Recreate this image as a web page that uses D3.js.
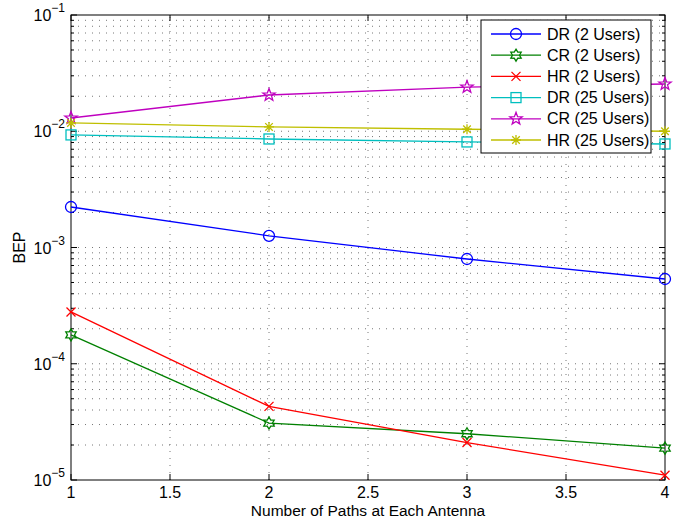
<!DOCTYPE html>
<html><head><meta charset="utf-8">
<script src="https://cdn.jsdelivr.net/npm/d3@7"></script>
<style>body{margin:0;background:#fff}svg{display:block}text{font-family:"Liberation Sans",Arial,sans-serif;fill:#000}</style>
</head><body><div id="chart"></div>
<script>
const xValues = [1, 2, 3, 4];
const seriesNames = ["DR (2 Users)", "CR (2 Users)", "HR (2 Users)", "DR (25 Users)", "CR (25 Users)", "HR (25 Users)"];
const drUsers2 = [2.23e-3, 1.26e-3, 7.96e-4, 5.36e-4];
const crUsers2 = [1.77e-4, 3.09e-5, 2.5e-5, 1.88e-5];
const hrUsers2 = [2.79e-4, 4.3e-5, 2.1e-5, 1.1e-5];
const drUsers25 = [9.3e-3, 8.58e-3, 8.09e-3, 7.77e-3];
const crUsers25 = [1.30e-2, 2.05e-2, 2.40e-2, 2.55e-2];
const hrUsers25 = [1.18e-2, 1.09e-2, 1.04e-2, 1.0e-2];
const xTicks = [1, 1.5, 2, 2.5, 3, 3.5, 4];
const xTickLabels = ["1", "1.5", "2", "2.5", "3", "3.5", "4"];
const yExponents = [-1, -2, -3, -4, -5];
const xLabel = "Number of Paths at Each Antenna";
const yLabel = "BEP";

const colors = ["#0000ff", "#008000", "#ff0000", "#00bfbf", "#bf00bf", "#bfbf00"];
const markers = ["circle", "hexagram", "x", "square", "pentagram", "asterisk"];
const allSeries = [drUsers2, crUsers2, hrUsers2, drUsers25, crUsers25, hrUsers25];

const W = 683, H = 527;
const m = {left: 71, right: 18, top: 15, bottom: 47};
const svg = d3.select("#chart").append("svg").attr("width", W).attr("height", H);
const x = d3.scaleLinear().domain([1, 4]).range([m.left, W - m.right]);
const y = d3.scaleLog().domain([1e-5, 1e-1]).range([H - m.bottom, m.top]);
const x0 = x.range()[0], x1 = x.range()[1], y0 = y.range()[0], y1 = y.range()[1];

// grid
const gridG = svg.append("g").attr("stroke", "#777").attr("stroke-width", 1).attr("stroke-dasharray", "1,6");
xTicks.slice(1, -1).forEach(t => {
  gridG.append("line").attr("x1", x(t)).attr("x2", x(t)).attr("y1", y0).attr("y2", y1);
});
const minorVals = [];
for (let e = -5; e < -1; e++) for (let k = 1; k <= 9; k++) {
  const v = k * Math.pow(10, e);
  if (k !== 1 || e !== -5) minorVals.push(v);
}
minorVals.forEach(v => {
  gridG.append("line").attr("x1", x0).attr("x2", x1).attr("y1", y(v)).attr("y2", y(v));
});

// ticks
const tickG = svg.append("g").attr("stroke", "#000").attr("stroke-width", 1);
xTicks.forEach(t => {
  tickG.append("line").attr("x1", x(t)).attr("x2", x(t)).attr("y1", y0).attr("y2", y0 - 6);
  tickG.append("line").attr("x1", x(t)).attr("x2", x(t)).attr("y1", y1).attr("y2", y1 + 6);
});
minorVals.concat([1e-5, 1e-1]).forEach(v => {
  const major = Math.abs(Math.log10(v) - Math.round(Math.log10(v))) < 1e-9;
  const len = major ? 6 : 3;
  tickG.append("line").attr("x1", x0).attr("x2", x0 + len).attr("y1", y(v)).attr("y2", y(v));
  tickG.append("line").attr("x1", x1).attr("x2", x1 - len).attr("y1", y(v)).attr("y2", y(v));
});

// axes frame
svg.append("rect").attr("x", x0).attr("y", y1).attr("width", x1 - x0).attr("height", y0 - y1)
  .attr("fill", "none").attr("stroke", "#000").attr("stroke-width", 1);

// tick labels
xTicks.forEach((t, i) => {
  svg.append("text").attr("x", x(t)).attr("y", y0 + 18).attr("text-anchor", "middle")
    .attr("font-size", 16).text(xTickLabels[i]);
});
yExponents.forEach(e => {
  const t = svg.append("text").attr("x", x0 - 6).attr("y", y(Math.pow(10, e)) + 6)
    .attr("text-anchor", "end").attr("font-size", 16);
  t.append("tspan").text("10");
  t.append("tspan").attr("dy", -9).attr("font-size", 12).text("\u2212" + Math.abs(e));
});
svg.append("text").attr("x", (x0 + x1) / 2).attr("y", 516).attr("text-anchor", "middle")
  .attr("font-size", 15.5).text(xLabel);
svg.append("text").attr("transform", `translate(25,${(y0 + y1) / 2}) rotate(-90)`)
  .attr("text-anchor", "middle").attr("font-size", 16).text(yLabel);

// markers
function starPath(n, ro, ri) {
  const pts = [];
  for (let i = 0; i < 2 * n; i++) {
    const a = -Math.PI / 2 + i * Math.PI / n;
    const r = i % 2 === 0 ? ro : ri;
    pts.push([r * Math.cos(a), r * Math.sin(a)]);
  }
  return "M" + pts.map(p => p[0].toFixed(2) + "," + p[1].toFixed(2)).join("L") + "Z";
}
function drawMarker(g, type, cx, cy, color) {
  const s = g.append("g").attr("transform", `translate(${cx},${cy})`)
    .attr("fill", "none").attr("stroke", color).attr("stroke-width", 1.3);
  if (type === "circle") s.append("circle").attr("r", 5.5);
  else if (type === "square") s.append("rect").attr("x", -5).attr("y", -5).attr("width", 10).attr("height", 10);
  else if (type === "x") s.append("path").attr("d", "M-4.5,-4.5L4.5,4.5M-4.5,4.5L4.5,-4.5");
  else if (type === "asterisk") s.append("path").attr("d", "M-5,0L5,0M0,-5L0,5M-3.8,-3.8L3.8,3.8M-3.8,3.8L3.8,-3.8");
  else if (type === "pentagram") s.append("path").attr("d", starPath(5, 6.5, 2.7));
  else if (type === "hexagram") s.append("path").attr("d", starPath(6, 6, 3.5));
}

const line = d3.line().x((d, i) => x(xValues[i])).y(d => y(d));
allSeries.forEach((vals, si) => {
  const g = svg.append("g");
  g.append("path").datum(vals).attr("d", line).attr("fill", "none")
    .attr("stroke", colors[si]).attr("stroke-width", 1.3);
  vals.forEach((v, i) => drawMarker(g, markers[si], x(xValues[i]), y(v), colors[si]));
});

// legend
const lg = svg.append("g");
lg.append("rect").attr("x", 481).attr("y", 20).attr("width", 170).attr("height", 133)
  .attr("fill", "#fff").attr("stroke", "#000").attr("stroke-width", 1);
seriesNames.forEach((name, i) => {
  const cy = 34 + i * 21.2;
  lg.append("line").attr("x1", 491).attr("x2", 541).attr("y1", cy).attr("y2", cy)
    .attr("stroke", colors[i]).attr("stroke-width", 1.3);
  drawMarker(lg, markers[i], 516, cy, colors[i]);
  lg.append("text").attr("x", 547).attr("y", cy + 5.5).attr("font-size", 16).text(name);
});
</script></body></html>
